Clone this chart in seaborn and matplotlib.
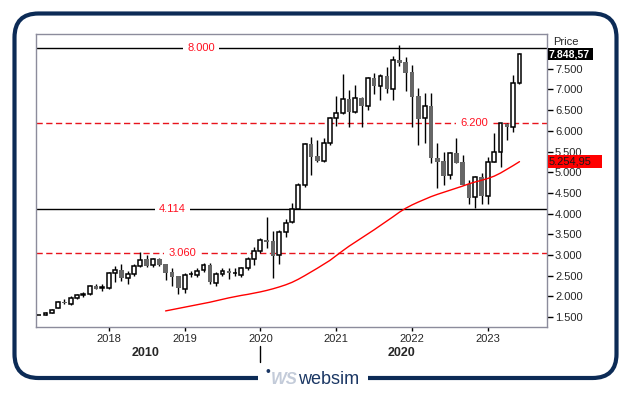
import numpy as np
import pandas as pd
import matplotlib
matplotlib.use('Agg')
import matplotlib.pyplot as plt
import matplotlib.transforms as mtransforms
from matplotlib.patches import FancyBboxPatch, Rectangle
from matplotlib.ticker import FuncFormatter
import seaborn as sns

sns.set_style('white')
plt.rcParams['font.family'] = ['Liberation Sans', 'DejaVu Sans']

# monthly candles, Feb 2017 - Jun 2023
months = pd.date_range('2017-02-01', '2023-06-01', freq='MS')

opens = [1545, 1560, 1610, 1730, 1860, 1810, 1970, 2045, 2050, 2245,
         2205, 2210, 2560, 2640, 2440, 2535, 2735, 2900, 2750, 2900,
         2780, 2583, 2490, 2180, 2530, 2518, 2640, 2760, 2330, 2535,
         2620, 2555, 2518, 2680, 2900, 3105, 3363, 3340, 3000, 3550,
         3791, 4104, 4692, 5682, 5392, 5278, 5698, 6302, 6423, 6761,
         6462, 6785, 6607, 7268, 7090, 7324, 7002, 7710, 7662, 7420,
         6841, 6302, 6600, 5336, 5271, 4933, 5457, 5240, 4708, 4394,
         4893, 4434, 5254, 5481, 6165, 6100, 7147]
highs = [1560, 1625, 1700, 1880, 1940, 2010, 2060, 2115, 2270, 2300,
         2290, 2590, 2735, 2775, 2615, 2780, 3080, 3000, 2930, 2930,
         2790, 2680, 2500, 2560, 2620, 2680, 2800, 2800, 2600, 2680,
         2680, 2690, 2720, 2950, 3187, 3420, 3910, 3588, 3605, 3880,
         4250, 4740, 5700, 5858, 5778, 5830, 6340, 6841, 7372, 6986,
         7106, 6820, 7310, 7400, 7360, 7550, 7807, 8072, 7790, 7590,
         7030, 6920, 6920, 5698, 5496, 5496, 5819, 5416, 4812, 4900,
         4974, 5375, 5955, 6181, 6181, 7348, 7887]
lows = [1540, 1545, 1590, 1710, 1820, 1790, 1950, 1995, 2030, 2170,
        2135, 2190, 2340, 2370, 2295, 2500, 2700, 2705, 2720, 2740,
        2390, 2252, 2060, 2090, 2480, 2480, 2600, 2300, 2240, 2500,
        2420, 2500, 2480, 2640, 2760, 3060, 3163, 2455, 2784, 3440,
        3780, 4104, 4650, 4933, 5240, 5240, 5650, 6116, 6400, 6084,
        6440, 6100, 6500, 6900, 6744, 6906, 6744, 7565, 6969, 6085,
        5657, 5698, 5215, 4612, 4692, 4830, 5230, 4692, 4233, 4130,
        4233, 4233, 5254, 5133, 5778, 5979, 7130]
closes = [1550, 1610, 1680, 1860, 1835, 1970, 2042, 2050, 2245, 2190,
          2210, 2560, 2630, 2440, 2535, 2730, 2880, 2740, 2900, 2760,
          2560, 2477, 2200, 2518, 2535, 2620, 2760, 2342, 2535, 2620,
          2560, 2560, 2680, 2900, 3105, 3363, 3322, 2985, 3550, 3782,
          4104, 4692, 5682, 5375, 5278, 5698, 6302, 6423, 6761, 6462,
          6785, 6607, 7268, 7090, 7324, 7002, 7710, 7646, 7404, 6824,
          6293, 6600, 5336, 5254, 4909, 5457, 5230, 4692, 4385, 4877,
          4434, 5254, 5481, 6181, 6100, 7147, 7848.57]

# moving average line (starts at the 21st candle)
ma_values = [1650, 1680, 1710, 1740, 1770, 1800, 1830, 1860, 1895, 1930,
             1965, 1995, 2025, 2050, 2080, 2110, 2145, 2185, 2230, 2280,
             2340, 2415, 2500, 2590, 2680, 2775, 2870, 2985, 3100, 3210,
             3310, 3410, 3510, 3610, 3715, 3820, 3925, 4035, 4130, 4210,
             4280, 4345, 4410, 4465, 4515, 4565, 4615, 4665, 4720, 4765,
             4805, 4850, 4905, 4980, 5070, 5160, 5254.95]

level_values = [8000, 6200, 4114, 3060]
level_labels = ['8.000', '6.200', '4.114', '3.060']
level_styles = ['solid', 'dashed', 'solid', 'dashed']

year_labels = ['2018', '2019', '2020', '2021', '2022', '2023']


def tr_fmt(v, decimals=0):
    s = f'{v:,.{decimals}f}'
    return s.replace(',', '#').replace('.', ',').replace('#', '.')


df = pd.DataFrame({'date': months, 'open': opens, 'high': highs,
                   'low': lows, 'close': closes})
df['idx'] = np.arange(len(df))
ma = pd.DataFrame({'idx': df['idx'].iloc[len(df) - len(ma_values):].values,
                   'ma': ma_values})

W, H = 630, 394
fig = plt.figure(figsize=(W / 100, H / 100), dpi=100)

# background layer in pixel units: frame + logo
bg = fig.add_axes([0, 0, 1, 1], zorder=0)
bg.set_xlim(0, W)
bg.set_ylim(H, 0)
bg.axis('off')
bg.add_patch(FancyBboxPatch((14.5, 13.5), 602, 364.5,
                            boxstyle='round,pad=0,rounding_size=24',
                            fill=False, edgecolor='#0c2b56', lw=3))
bg.add_patch(Rectangle((258, 370), 110, 16, facecolor='white', edgecolor='none'))
bg.text(268, 372, '•', color='#1b3764', fontsize=10, ha='center', va='center')
bg.text(284, 380, 'WS', color='#c3cbd9', fontsize=12, fontweight='bold',
        style='italic', ha='center', va='center')
bg.text(329, 380, 'websim', color='#1b3764', fontsize=13, ha='center', va='center')
bg.plot([259.5, 259.5], [346, 362], color='black', lw=1)
bg.text(146, 353, '2010', fontsize=9, fontweight='bold', ha='center', va='center')
bg.text(402, 353, '2020', fontsize=9, fontweight='bold', ha='center', va='center')
bg.text(553, 42, 'Price', fontsize=8, ha='left', va='center')

# main chart
ax = fig.add_axes([35.5 / W, 67.3 / H, 511.8 / W, 292.7 / H], zorder=1)
ax.set_facecolor('white')

up = df['close'] >= df['open']
bottom = np.minimum(df['open'], df['close'])
height = np.maximum((df['close'] - df['open']).abs(), 15)

ax.vlines(df['idx'], df['low'], df['high'], color='black', lw=1, zorder=2)
ax.bar(df['idx'][up], height[up], bottom=bottom[up], width=0.62,
       facecolor='white', edgecolor='black', lw=1.1, zorder=3)
ax.bar(df['idx'][~up], height[~up], bottom=bottom[~up], width=0.72,
       color='#666666', lw=0, zorder=3)

sns.lineplot(data=ma, x='idx', y='ma', ax=ax, color='#ff0000', lw=1, zorder=4)

label_pos = [25.6, 68.8, 21.1, 22.6]
for val, lab, st, xp in zip(level_values, level_labels, level_styles, label_pos):
    if st == 'solid':
        ax.axhline(val, color='black', lw=1, zorder=1)
    else:
        ax.axhline(val, color='#e8141c', lw=1, ls=(0, (4.5, 2.5)), zorder=1)
    ax.text(xp, val, lab, color='#ff1020', fontsize=8, ha='center', va='center',
            bbox=dict(facecolor='white', edgecolor='none', pad=3), zorder=5)

ax.set_xlim(-0.585, 80.4)
ax.set_ylim(1269, 8338)
ax.set_xlabel('')
ax.set_ylabel('')

ax.set_xticks([11, 23, 35, 47, 59, 71])
ax.set_xticklabels(year_labels)
ax.yaxis.tick_right()
ax.set_yticks(np.arange(1500, 7501, 500))
ax.yaxis.set_major_formatter(FuncFormatter(lambda v, p: tr_fmt(v)))
ax.tick_params(axis='y', direction='out', length=4, width=1, color='black',
               labelsize=8, pad=1.5, right=True, left=False)
ax.tick_params(axis='x', direction='out', length=3, width=1, color='black',
               labelsize=8, pad=2, bottom=True)
for sp in ax.spines.values():
    sp.set_color('#8c8c9c')
    sp.set_linewidth(1)

# last price and MA value boxes on the right axis
trans = mtransforms.blended_transform_factory(fig.transFigure, ax.transData)
last = closes[-1]
ax.add_patch(Rectangle((547.5 / W, last - 150), 45 / W, 300, transform=trans,
                       facecolor='black', edgecolor='none', clip_on=False, zorder=10))
ax.text(548.5 / W, last, tr_fmt(last, 2), transform=trans, color='white',
        fontsize=7.6, fontweight='bold', va='center', ha='left', zorder=11)
ma_last = ma_values[-1]
ax.add_patch(Rectangle((547.5 / W, ma_last - 150), 54 / W, 300, transform=trans,
                       facecolor='#ff0000', edgecolor='none', clip_on=False, zorder=10))
ax.text(549 / W, ma_last, tr_fmt(ma_last, 2), transform=trans, color='#1a1a1a',
        fontsize=8, va='center', ha='left', zorder=11)

fig.savefig('out.png', dpi=100)
